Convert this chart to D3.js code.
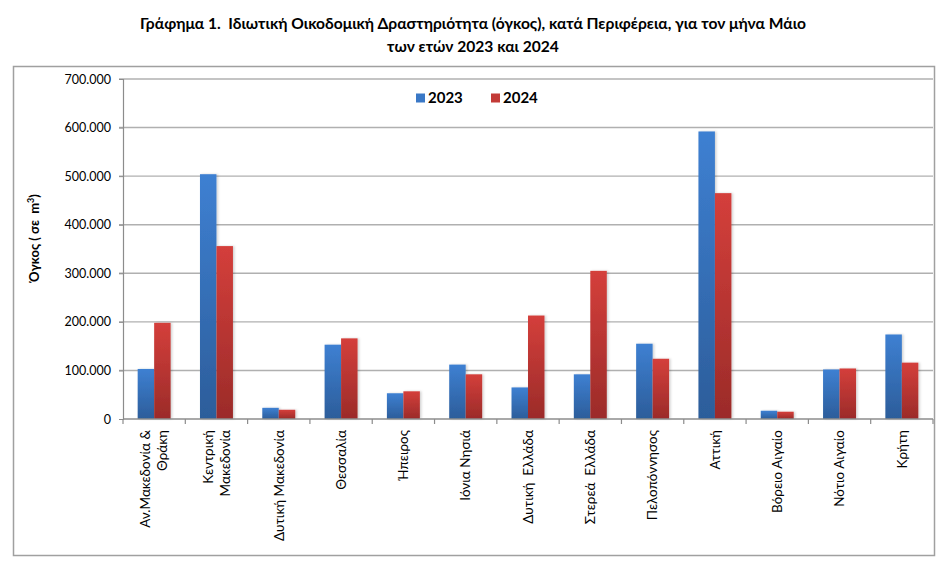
<!DOCTYPE html>
<html>
<head>
<meta charset="utf-8">
<script src="https://cdn.jsdelivr.net/npm/d3@7"></script>
<style>
  html, body { margin: 0; padding: 0; background: #fff; }
  svg { display: block; font-family: Lato, "Open Sans", sans-serif; }
  svg text { white-space: pre; }
</style>
</head>
<body>
<svg id="chart" width="945" height="570"></svg>
<script>
const categories = [
  ["Αν.Μακεδονία &", "Θράκη"],
  ["Κεντρική", "Μακεδονία"],
  ["Δυτική Μακεδονία"],
  ["Θεσσαλία"],
  ["Ήπειρος"],
  ["Ιόνια Νησιά"],
  ["Δυτική  Ελλάδα"],
  ["Στερεά  Ελλάδα"],
  ["Πελοπόννησος"],
  ["Αττική"],
  ["Βόρειο Αιγαίο"],
  ["Νότιο Αιγαίο"],
  ["Κρήτη"]
];
const values2023 = [103000, 504000, 23000, 153000, 53000, 112000, 65000, 92000, 155000, 592000, 17000, 102000, 174000];
const values2024 = [198000, 356000, 19000, 166000, 57000, 92000, 213000, 305000, 124000, 465000, 15000, 104000, 116000];
const seriesNames = ["2023", "2024"];
const yTicks = [0, 100000, 200000, 300000, 400000, 500000, 600000, 700000];
const titleLines = ["Γράφημα 1.  Ιδιωτική Οικοδομική Δραστηριότητα (όγκος), κατά Περιφέρεια, για τον μήνα Μάιο", "των ετών 2023 και 2024"];

const svg = d3.select("#chart");
const margin = { left: 123, right: 933, top: 79, bottom: 419 };

const defs = svg.append("defs");
const grads = [
  { id: "gBlue", top: "#3e80d2", bottom: "#2c5d9a" },
  { id: "gRed", top: "#d43f3b", bottom: "#9b2b29" }
];
grads.forEach(g => {
  const lg = defs.append("linearGradient").attr("id", g.id)
    .attr("x1", 0).attr("y1", 0).attr("x2", 0).attr("y2", 1);
  lg.append("stop").attr("offset", "0%").attr("stop-color", g.top);
  lg.append("stop").attr("offset", "100%").attr("stop-color", g.bottom);
});
const legendColors = ["#3a78c6", "#c33a37"];
const f = defs.append("filter").attr("id", "shadow").attr("x", "-30%").attr("y", "-10%").attr("width", "160%").attr("height", "120%");
f.append("feDropShadow").attr("dx", 1.5).attr("dy", 0).attr("stdDeviation", 1.2).attr("flood-color", "#000").attr("flood-opacity", 0.18);

// Title
svg.append("g").selectAll("text").data(titleLines).join("text")
  .attr("x", 473).attr("y", (d, i) => 29 + i * 23)
  .attr("text-anchor", "middle")
  .attr("font-size", 15.6).attr("font-weight", "bold").attr("fill", "#000")
  .text(d => d);

// Outer border
svg.append("rect").attr("x", 13.5).attr("y", 66.5).attr("width", 921).attr("height", 489)
  .attr("fill", "none").attr("stroke", "#a0a0a0").attr("stroke-width", 1.5);

const x = d3.scaleBand().domain(d3.range(categories.length)).range([margin.left, margin.right]).paddingInner(0).paddingOuter(0);
const y = d3.scaleLinear().domain([0, 700000]).range([margin.bottom, margin.top]);
const x1 = d3.scaleBand().domain(seriesNames).range([0, x.bandwidth()]).paddingInner(0).paddingOuter(0.89);

// Gridlines
svg.append("g").selectAll("line").data(yTicks.filter(d => d > 0)).join("line")
  .attr("x1", margin.left - 4).attr("x2", margin.right)
  .attr("y1", d => y(d)).attr("y2", d => y(d))
  .attr("stroke", "#b0b0b0").attr("stroke-width", 1.4);

// Y axis
const yAxis = d3.axisLeft(y).tickValues(yTicks)
  .tickFormat(d => d3.format(",")(d).replace(/,/g, "."))
  .tickSize(4).tickPadding(8);
const ya = svg.append("g").attr("transform", `translate(${margin.left},0)`).call(yAxis);
ya.select(".domain").attr("stroke", "#8c8c8c").attr("stroke-width", 1.2);
ya.selectAll(".tick line").attr("stroke", "#8c8c8c");
ya.selectAll(".tick text").attr("font-size", 12.5).attr("fill", "#000").attr("font-family", "Lato, sans-serif");

// Bars
const groups = svg.append("g").selectAll("g").data(categories.map((c, i) => i)).join("g")
  .attr("transform", i => `translate(${x(i)},0)`);
groups.selectAll("rect").data(i => [
  { s: "2023", v: values2023[i], g: "gBlue" },
  { s: "2024", v: values2024[i], g: "gRed" }
]).join("rect")
  .attr("x", d => x1(d.s)).attr("width", x1.bandwidth())
  .attr("y", d => y(d.v)).attr("height", d => y(0) - y(d.v))
  .attr("fill", d => `url(#${d.g})`)
  .attr("filter", "url(#shadow)");

// X axis
const xa = svg.append("g").attr("transform", `translate(0,${margin.bottom})`);
xa.append("line").attr("x1", margin.left).attr("x2", margin.right).attr("y1", 0).attr("y2", 0)
  .attr("stroke", "#8c8c8c").attr("stroke-width", 1.4);
const boundaries = d3.range(categories.length + 1).map(i => i < categories.length ? x(i) : x(i - 1) + x.bandwidth());
xa.selectAll("line.tk").data(boundaries).join("line").attr("class", "tk")
  .attr("x1", d => d).attr("x2", d => d).attr("y1", 0).attr("y2", 5)
  .attr("stroke", "#8c8c8c").attr("stroke-width", 1.2);

const lineH = 17;
xa.selectAll("g.lbl").data(categories.map((c, i) => ({ c, i }))).join("g").attr("class", "lbl")
  .attr("transform", d => `translate(${x(d.i) + x.bandwidth() / 2},11) rotate(-90)`)
  .each(function (d) {
    const n = d.c.length;
    d3.select(this).selectAll("text").data(d.c).join("text")
      .attr("x", 0)
      .attr("y", (t, k) => (k - (n - 1) / 2) * lineH)
      .attr("dy", "0.35em")
      .attr("text-anchor", "end")
      .attr("font-size", 13.5).attr("fill", "#000")
      .text(t => t);
  });

// Y label
svg.append("text").attr("transform", "translate(39,238) rotate(-90)")
  .attr("text-anchor", "middle").attr("font-size", 13).attr("font-weight", "bold")
  .html('Όγκος ( σε  m<tspan dy="-5" font-size="9">3</tspan><tspan dy="5">)</tspan>');

// Legend
const leg = svg.append("g").selectAll("g").data(seriesNames).join("g")
  .attr("transform", (d, i) => `translate(${416 + i * 75},93.5)`);
leg.append("rect").attr("width", 9).attr("height", 9).attr("fill", (d, i) => legendColors[i]);
leg.append("text").attr("x", 12).attr("y", 9.5).attr("font-size", 15).attr("font-weight", "bold").text(d => d);
</script>
</body>
</html>
